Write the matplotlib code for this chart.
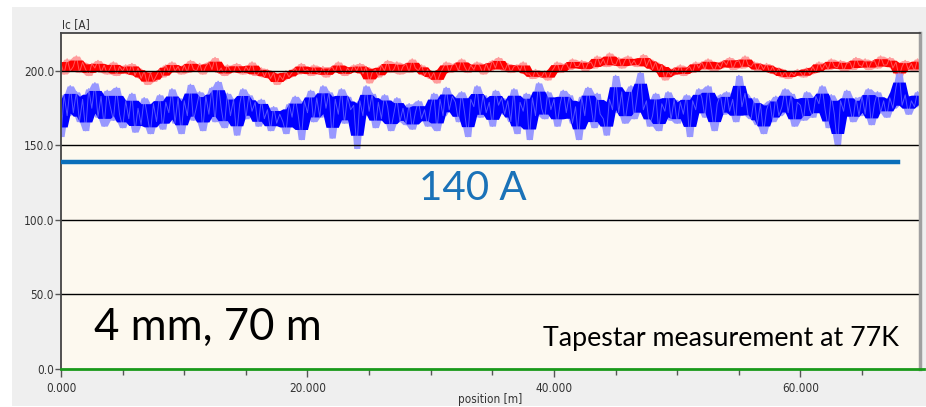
import numpy as np
import pandas as pd
import matplotlib
matplotlib.use("Agg")
import matplotlib.pyplot as plt
from matplotlib.patches import Rectangle

# Ic readings along the tape, 4 samples per metre (position step 0.25 m)
STEP = 0.25
ic_blue = [
    156, 184, 170, 190, 172, 186, 166, 181, 160, 188, 175, 192, 169, 183, 163, 187, 176, 167, 189, 171,
    162, 180, 168, 185, 159, 175, 164, 182, 170, 158, 178, 166, 184, 161, 179, 172, 188, 165, 182, 158,
    180, 170, 191, 167, 176, 186, 160, 183, 171, 189, 166, 193, 175, 162, 185, 170, 181, 157, 178, 188,
    168, 184, 173, 179, 163, 181, 168, 174, 160, 176, 165, 171, 166, 158, 178, 169, 183, 170, 154, 180,
    172, 187, 166, 182, 169, 190, 175, 186, 155, 181, 171, 188, 165, 183, 174, 177, 148, 180, 170, 190,
    173, 185, 162, 179, 168, 184, 176, 160, 171, 182, 166, 175, 164, 178, 161, 172, 180, 168, 174, 163,
    176, 185, 160, 181, 170, 189, 174, 183, 179, 166, 186, 172, 156, 181, 176, 190, 169, 184, 172, 179,
    163, 187, 177, 182, 171, 180, 166, 188, 158, 179, 173, 185, 154, 182, 170, 192, 175, 168, 186, 174,
    181, 163, 178, 187, 172, 184, 165, 176, 154, 183, 170, 189, 177, 162, 185, 171, 168, 157, 181, 174,
    197, 172, 186, 165, 179, 190, 168, 183, 199, 174, 180, 163, 170, 185, 160, 178, 173, 186, 167, 181,
    165, 179, 171, 184, 156, 180, 174, 188, 182, 169, 190, 175, 160, 178, 184, 171, 186, 173, 181, 166,
    197, 176, 185, 170, 168, 182, 164, 178, 158, 174, 180, 166, 183, 170, 176, 188, 172, 185, 163, 179,
    177, 167, 186, 174, 169, 183, 178, 190, 174, 162, 184, 171, 150, 180, 173, 187, 176, 166, 182, 170,
    183, 171, 188, 164, 178, 186, 172, 180, 169, 182, 175, 189, 199, 177, 184, 171, 180, 176, 186, 181,
]
ic_red = [
    205, 198, 208, 200, 203, 210, 199, 206, 201, 197, 205, 202, 207, 199, 204, 198, 202, 206, 197, 203,
    200, 204, 198, 205, 197, 202, 195, 200, 191, 199, 193, 197, 201, 196, 204, 199, 206, 200, 203, 198,
    204, 199, 207, 201, 200, 205, 198, 203, 206, 201, 209, 199, 202, 197, 204, 200, 199, 205, 201, 198,
    203, 200, 206, 197, 198, 202, 196, 201, 195, 199, 191, 197, 194, 200, 196, 199, 202, 198, 205, 200,
    201, 197, 204, 199, 198, 203, 196, 201, 203, 199, 206, 200, 197, 202, 199, 204, 200, 205, 198, 203,
    192, 199, 201, 196, 204, 200, 207, 199, 201, 206, 198, 203, 205, 199, 208, 202, 200, 204, 197, 201,
    195, 199, 192, 198, 202, 206, 199, 204, 205, 200, 208, 203, 199, 204, 201, 206, 203, 198, 205, 200,
    207, 202, 209, 204, 200, 205, 199, 203, 204, 200, 206, 198, 198, 195, 201, 197, 196, 200, 194, 199,
    202, 206, 199, 204, 205, 201, 208, 203, 203, 207, 200, 205, 206, 202, 210, 204, 208, 203, 212, 205,
    204, 209, 202, 207, 210, 204, 207, 203, 205, 211, 203, 208, 201, 206, 199, 204, 194, 200, 197, 202,
    199, 204, 197, 201, 203, 199, 206, 202, 206, 201, 208, 204, 200, 205, 202, 207, 204, 209, 201, 206,
    207, 202, 210, 204, 203, 206, 200, 205, 201, 205, 199, 203, 198, 202, 196, 200, 195, 199, 197, 201,
    199, 196, 202, 198, 203, 199, 206, 201, 205, 201, 208, 203, 202, 207, 200, 205, 206, 201, 209, 204,
    203, 208, 201, 206, 207, 202, 210, 204, 204, 209, 202, 206, 196, 203, 207, 201, 205, 200, 208, 203,
]
spec_level = 139          # required Ic marker
spec_end = 67.9           # marker length [m]
y_ticks = [0, 50, 100, 150, 200]
x_ticks = [0, 20, 40, 60]

pos = np.arange(len(ic_blue)) * STEP
small = dict(family='DejaVu Sans', stretch='condensed', fontsize=8.5, color='#333333')
big = ['Lato', 'DejaVu Sans']

fig = plt.figure(figsize=(9.26, 4.07), dpi=100, facecolor='white')
fig.patches.append(Rectangle((12/926, 1/407), 1, 1 - 8/407, transform=fig.transFigure,
                             facecolor='#efefef', edgecolor='none', zorder=-5))
ax = fig.add_axes([61/926, 38/407, 859/926, 336/407])
ax.set_facecolor('#fdf9ef')

def draw(vals, light, dark, shrink):
    v = pd.Series(vals, dtype=float)
    m = v.rolling(9, center=True, min_periods=1).mean()
    core = m + shrink * (v - m)
    lo = v.rolling(3, center=True, min_periods=1).min()
    hi = v.rolling(3, center=True, min_periods=1).max()
    clo = core.rolling(5, center=True, min_periods=1).min()
    chi = core.rolling(5, center=True, min_periods=1).max()
    ax.fill_between(pos, lo, hi, color=light, lw=0, zorder=2)
    ax.plot(pos, v, color=light, lw=1.1, zorder=2)
    ax.fill_between(pos, clo, chi, color=dark, lw=0, zorder=2.1)
    ax.plot(pos, v, color=light, lw=0.7, alpha=0.55, zorder=2.2)

draw(ic_red, '#ff9c9c', '#ff0000', 0.65)
draw(ic_blue, '#9898ff', '#0000ff', 0.65)
ax.plot([0, pos[-1] + STEP], [0, 0], color='#1a9a1a', lw=2, clip_on=False, zorder=3)
ax.plot([0, spec_end], [spec_level, spec_level], color='#0b6fba', lw=3.2, zorder=3)

for y in y_ticks[1:]:
    ax.axhline(y, color='black', lw=1, zorder=2.5)

ax.set_xlim(0, 69.7)
ax.set_ylim(0, 225.5)
ax.set_yticks(y_ticks)
ax.set_yticklabels([f'{t:.1f}' for t in y_ticks], **small)
ax.set_xticks(x_ticks)
ax.set_xticklabels([f'{t:.3f}' for t in x_ticks], **small)
ax.set_xticks(np.arange(5, 70, 5), minor=True)
ax.tick_params(axis='y', length=4, width=1, color='#555555', pad=1)
ax.tick_params(axis='x', which='major', length=6, width=1, color='#555555', pad=3)
ax.tick_params(axis='x', which='minor', length=4, width=1, color='#555555')

for s in ['left', 'top']:
    ax.spines[s].set_color('#444444')
    ax.spines[s].set_linewidth(1.3)
ax.spines['right'].set_color('#a0a0a0')
ax.spines['right'].set_linewidth(2.5)
ax.spines['bottom'].set_color('#444444')

fig.text(62/926, 1 - 25/407, 'Ic [A]', va='center', **small)
fig.text(490/926, 1 - 406/407, 'position [m]', ha='center', va='bottom', **small)
ax.text(33.4, 113.5, '140 A', family=big, fontsize=29, color='#1a72b8', ha='center', va='baseline')
ax.text(2.7, 19.5, '4 mm, 70 m', family=big, fontsize=31.5, color='black', va='baseline')
ax.text(68.0, 15.4, 'Tapestar measurement at 77K', family=big, fontsize=19.3, color='black',
        ha='right', va='baseline')

fig.savefig('out.png', dpi=100)
